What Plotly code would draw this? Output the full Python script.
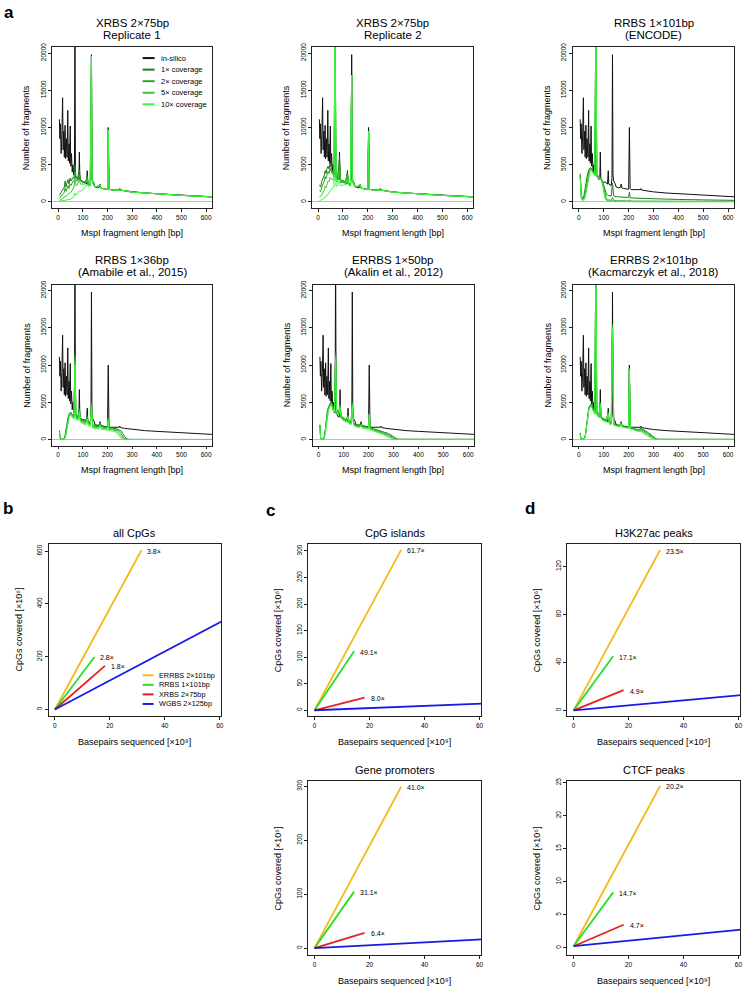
import plotly.graph_objects as go

W, H = 749, 988
FONT = "Liberation Sans, Arial, Helvetica, sans-serif"

# ---------------- Panel a data: MspI fragment length distributions ----------------
insilico_x = [5, 7, 9, 12, 15, 18, 20, 23, 25, 28,
              30, 33, 36, 39, 41, 44, 46, 49, 51, 54,
              57, 60, 63, 66, 68, 70, 75, 80, 84, 86,
              88, 95, 100, 105, 110, 115, 118, 120, 125, 130,
              133, 135, 137, 140, 145, 150, 160, 168, 170, 172,
              180, 190, 200, 203, 206, 210, 230, 248, 250, 252,
              270, 300, 350, 400, 450, 500, 550, 600, 625]
insilico_y = [11100, 8500, 10500, 6500, 9000, 14000, 7000, 9500, 6000, 10300,
              5800, 8500, 6000, 12300, 5500, 7800, 5200, 10200, 4800, 6500,
              4000, 5000, 3600, 4200, 26000, 3500, 3300, 3000, 3100, 6700,
              3000, 2800, 2600, 2700, 2500, 2400, 4200, 2400, 2300, 2200,
              3200, 19800, 3500, 2800, 2500, 2000, 1900, 2000, 2400, 1900,
              1800, 1750, 1700, 10000, 1800, 1650, 1600, 1650, 1800, 1600,
              1500, 1350, 1200, 1100, 1000, 900, 820, 730, 690]

# XRBS replicates: low-length part + shared tail
a12_x = [5, 10, 15, 20, 25, 28, 32, 36, 40, 44,
         48, 52, 56, 60, 64, 68, 72, 78, 86, 90,
         100, 110, 118, 122, 130]
a12_tail_x = [135, 137, 140, 150, 170, 172, 190, 200, 203, 206,
              220, 250, 300, 400, 500, 600, 625]
a1_tail = [19600, 3200, 2600, 1950, 2300, 1850, 1700, 1650, 9700, 1700,
           1600, 1600, 1320, 1060, 880, 710, 670]
a2_tail = [17000, 3200, 2600, 1950, 2300, 1850, 1700, 1650, 9500, 1700,
           1600, 1600, 1320, 1060, 880, 710, 670]

a1_c1 = [900, 1200, 1400, 1700, 2000, 2800, 2000, 2600, 3000, 2400,
         3200, 2800, 3000, 3300, 3200, 5000, 3300, 3100, 4300, 3000,
         2800, 2600, 3500, 2400, 2300]
a1_c2 = [500, 700, 900, 1100, 1300, 1900, 1400, 1800, 2200, 1800,
         2400, 2200, 2500, 2800, 2800, 4000, 2900, 2800, 3600, 2800,
         2700, 2500, 3300, 2400, 2300]
a1_c5 = [200, 300, 400, 500, 600, 800, 700, 900, 1000, 1000,
         1200, 1300, 1500, 1800, 2000, 3000, 2200, 2300, 3000, 2400,
         2400, 2400, 3000, 2300, 2200]
a1_c10 = [80, 100, 120, 150, 180, 250, 200, 250, 300, 300,
          350, 400, 500, 600, 700, 1200, 900, 1100, 1500, 1400,
          1700, 1900, 2400, 2100, 2200]

a2_c1 = [2300, 2000, 2800, 3200, 3600, 4200, 3800, 4500, 4800, 4400,
         5200, 4600, 4300, 3900, 3600, 25000, 3400, 3200, 6000, 3000,
         2900, 2700, 4000, 2500, 2400]
a2_c2 = [1500, 1400, 2000, 2400, 2800, 3400, 3100, 3700, 4100, 3800,
         4500, 4100, 3900, 3600, 3400, 25000, 3200, 3000, 5200, 2900,
         2800, 2600, 3800, 2500, 2400]
a2_c5 = [700, 700, 1000, 1300, 1600, 2100, 1900, 2400, 2800, 2700,
         3300, 3100, 3100, 3000, 2900, 25000, 2800, 2700, 4200, 2600,
         2600, 2500, 3500, 2400, 2300]
a2_c10 = [150, 200, 300, 400, 500, 700, 700, 900, 1100, 1200,
          1500, 1600, 1800, 1900, 2000, 25000, 2100, 2200, 2800, 2200,
          2300, 2300, 3000, 2300, 2300]

# RRBS 1x101bp (ENCODE)
a3_x = [5, 7, 10, 15, 20, 25, 30, 35, 40, 45,
        50, 55, 60, 64, 68, 72, 80, 90, 95, 100,
        105, 110, 115, 120, 130, 135, 140, 150, 170, 200,
        203, 206, 250, 300, 400, 500, 600, 625]
a3_c1 = [3800, 2000, 800, 500, 800, 1800, 3000, 3800, 4300, 4600,
         4500, 4200, 3900, 3700, 25000, 3600, 3400, 3100, 2800, 2200,
         1500, 1100, 900, 850, 800, 2500, 800, 700, 650, 600,
         1300, 550, 480, 400, 330, 270, 220, 210]
a3_c2 = [3600, 1800, 600, 350, 500, 1200, 2400, 3400, 4100, 4500,
         4500, 4200, 3900, 3700, 25000, 3600, 3400, 3100, 2700, 1900,
         1000, 500, 300, 250, 200, 600, 180, 160, 150, 130,
         300, 120, 110, 100, 90, 80, 70, 70]
a3_c5 = [3400, 1600, 500, 250, 350, 900, 1900, 3000, 3800, 4300,
         4400, 4100, 3800, 3600, 25000, 3500, 3300, 3000, 2500, 1500,
         700, 300, 150, 100, 80, 200, 70, 60, 50, 50,
         100, 50, 40, 40, 40, 40, 40, 40]
a3_c10 = [3200, 1400, 400, 200, 250, 600, 1400, 2500, 3400, 4000,
          4200, 4000, 3700, 3500, 25000, 3400, 3200, 2900, 2300, 1200,
          500, 200, 80, 50, 40, 100, 40, 30, 30, 30,
          60, 30, 30, 30, 30, 30, 30, 30]

# RRBS 1x36bp (Amabile et al., 2015)
a4_x = [5, 8, 12, 20, 26, 30, 35, 40, 45, 50,
        55, 60, 64, 68, 72, 80, 86, 90, 100, 110,
        118, 122, 130, 135, 140, 150, 165, 170, 175, 190,
        200, 203, 206, 220, 235, 245, 255, 265, 275, 285,
        300, 400, 500, 600, 625]
a4_c1 = [1200, 200, 50, 50, 200, 800, 2000, 3000, 3500, 3700,
         3400, 3300, 3200, 11500, 3200, 3000, 4200, 2800, 2600, 2400,
         3200, 2300, 2200, 5000, 2000, 1900, 1900, 2300, 1850, 1750,
         1700, 3000, 1650, 1550, 1450, 1350, 1150, 600, 150, 20,
         10, 10, 10, 10, 10]
a4_c2 = [1100, 150, 40, 40, 150, 650, 1800, 2850, 3400, 3600,
         3300, 3150, 3050, 11000, 3050, 2850, 4000, 2650, 2450, 2250,
         3000, 2150, 2050, 4800, 1850, 1750, 1750, 2150, 1700, 1600,
         1550, 2850, 1500, 1420, 1320, 1180, 800, 250, 40, 10,
         10, 10, 10, 10, 10]
a4_c5 = [1000, 120, 30, 30, 100, 500, 1600, 2700, 3250, 3450,
         3150, 3000, 2900, 10500, 2900, 2700, 3800, 2500, 2300, 2100,
         2850, 2000, 1900, 4600, 1700, 1600, 1600, 2000, 1550, 1450,
         1400, 2700, 1350, 1300, 1200, 900, 400, 60, 10, 10,
         10, 10, 10, 10, 10]
a4_c10 = [900, 100, 20, 20, 80, 400, 1400, 2500, 3100, 3300,
          3000, 2850, 2750, 10000, 2750, 2550, 3600, 2350, 2150, 1950,
          2700, 1850, 1750, 4400, 1550, 1450, 1450, 1850, 1400, 1300,
          1250, 2550, 1200, 1150, 1000, 600, 150, 20, 10, 10,
          10, 10, 10, 10, 10]

# ERRBS 1x50bp (Akalin et al., 2012)
a5_x = [5, 8, 12, 20, 25, 30, 35, 40, 45, 50,
        55, 60, 64, 68, 72, 80, 86, 90, 100, 110,
        118, 122, 130, 135, 140, 150, 165, 170, 175, 190,
        200, 203, 206, 220, 240, 260, 280, 295, 305, 315,
        325, 400, 500, 600, 625]
a5_c1 = [2000, 200, 80, 80, 800, 2500, 3800, 4400, 4900, 5100,
         4700, 4300, 4000, 11700, 4000, 3500, 4800, 3200, 2900, 2600,
         3300, 2400, 2300, 5100, 2200, 2000, 1900, 2200, 1850, 1750,
         1700, 3600, 1600, 1450, 1250, 1050, 800, 500, 250, 80,
         30, 20, 20, 20, 20]
a5_c2 = [1900, 180, 70, 70, 700, 2300, 3600, 4300, 4800, 5000,
         4600, 4200, 3900, 11300, 3900, 3400, 4600, 3100, 2800, 2500,
         3200, 2300, 2200, 4900, 2100, 1900, 1800, 2100, 1750, 1650,
         1600, 3500, 1500, 1350, 1150, 950, 650, 350, 120, 30,
         20, 20, 20, 20, 20]
a5_c5 = [1800, 160, 60, 60, 600, 2100, 3400, 4100, 4600, 4800,
         4400, 4000, 3800, 11000, 3800, 3300, 4400, 3000, 2700, 2400,
         3100, 2200, 2100, 4700, 2000, 1800, 1700, 2000, 1650, 1550,
         1500, 3400, 1400, 1250, 1050, 800, 450, 180, 50, 20,
         20, 20, 20, 20, 20]
a5_c10 = [1700, 150, 50, 50, 500, 1900, 3200, 3900, 4400, 4600,
          4200, 3900, 3700, 10700, 3700, 3200, 4200, 2900, 2600, 2300,
          3000, 2100, 2000, 4500, 1900, 1700, 1600, 1900, 1550, 1450,
          1400, 3300, 1300, 1150, 950, 650, 300, 80, 20, 20,
          20, 20, 20, 20, 20]

# ERRBS 2x101bp (Kacmarczyk et al., 2018)
a6_x = [5, 8, 12, 20, 25, 30, 35, 40, 45, 50,
        55, 60, 64, 68, 72, 80, 86, 90, 100, 110,
        118, 122, 130, 135, 140, 150, 165, 170, 175, 190,
        200, 203, 206, 220, 240, 250, 260, 275, 290, 300,
        310, 320, 400, 500, 600, 625]
a6_c1 = [900, 100, 50, 50, 400, 2000, 3500, 4300, 4600, 4800,
         4300, 3900, 3700, 25000, 3700, 3200, 5000, 3000, 2800, 2600,
         3700, 2400, 2300, 15500, 2200, 2000, 1850, 2300, 1800, 1700,
         1650, 9600, 1600, 1450, 1350, 1500, 1250, 1000, 650, 350,
         100, 30, 20, 20, 20, 20]
a6_c2 = [850, 90, 45, 45, 350, 1900, 3400, 4200, 4500, 4700,
         4200, 3800, 3600, 25000, 3600, 3100, 4900, 2900, 2700, 2500,
         3600, 2300, 2200, 15300, 2100, 1900, 1800, 2200, 1750, 1650,
         1600, 9500, 1550, 1400, 1250, 1350, 1100, 850, 500, 250,
         60, 20, 20, 20, 20, 20]
a6_c5 = [800, 80, 40, 40, 300, 1800, 3300, 4100, 4400, 4600,
         4100, 3700, 3500, 25000, 3500, 3000, 4800, 2800, 2600, 2400,
         3500, 2200, 2100, 15100, 2000, 1850, 1750, 2150, 1700, 1600,
         1550, 9400, 1500, 1350, 1150, 1250, 950, 700, 350, 120,
         30, 20, 20, 20, 20, 20]
a6_c10 = [750, 70, 35, 35, 250, 1700, 3200, 4000, 4300, 4500,
          4000, 3600, 3400, 25000, 3400, 2900, 4700, 2700, 2500, 2300,
          3400, 2100, 2000, 14900, 1900, 1800, 1700, 2100, 1650, 1550,
          1500, 9300, 1450, 1300, 1050, 1100, 800, 500, 200, 50,
          20, 20, 20, 20, 20, 20]

a_titles = [("XRBS 2×75bp", "Replicate 1"), ("XRBS 2×75bp", "Replicate 2"),
            ("RRBS 1×101bp", "(ENCODE)"), ("RRBS 1×36bp", "(Amabile et al., 2015)"),
            ("ERRBS 1×50bp", "(Akalin et al., 2012)"), ("ERRBS 2×101bp", "(Kacmarczyk et al., 2018)")]
coverage_names = ["1× coverage", "2× coverage", "5× coverage", "10× coverage"]
a_xticks = [0, 100, 200, 300, 400, 500, 600]
a_yticks = [0, 5000, 10000, 15000, 20000]

# ---------------- Panels b-d data: CpGs covered vs basepairs sequenced ----------------
methods = ["ERRBS 2×101bp", "RRBS 1×101bp", "XRBS 2×75bp", "WGBS 2×125bp"]
errbs_bp = [0, 31.5]
rrbs_bp = [0, 14.4]
xrbs_bp = [0, 18.2]
wgbs_bp = [0, 65]

allcpg_y = {"ERRBS": [0, 603], "RRBS": [0, 199], "XRBS": [0, 165], "WGBS": [0, 357]}
cgi_y = {"ERRBS": [0, 302], "RRBS": [0, 111], "XRBS": [0, 23.8], "WGBS": [0, 13.4]}
h3k27ac_y = {"ERRBS": [0, 133.8], "RRBS": [0, 45.2], "XRBS": [0, 16.9], "WGBS": [0, 13.6]}
promoter_y = {"ERRBS": [0, 299], "RRBS": [0, 104.7], "XRBS": [0, 28.3], "WGBS": [0, 17.2]}
ctcf_y = {"ERRBS": [0.25, 24.5], "RRBS": [0.25, 8.4], "XRBS": [0.25, 3.5], "WGBS": [0.25, 2.94]}

allcpg_fold = ["3.8×", "2.8×", "1.8×"]
cgi_fold = ["61.7×", "49.1×", "8.0×"]
h3k27ac_fold = ["23.5×", "17.1×", "4.9×"]
promoter_fold = ["41.0×", "31.1×", "6.4×"]
ctcf_fold = ["20.2×", "14.7×", "4.7×"]

bp_xticks = [0, 20, 40, 60]
allcpg_yticks = [0, 200, 400, 600]
cgi_yticks = [0, 50, 100, 150, 200, 250, 300]
h3k27ac_yticks = [0, 40, 80, 120]
promoter_yticks = [0, 100, 200, 300]
ctcf_yticks = [0, 5, 10, 15, 20, 25]

# ---------------- styling ----------------
cov_colors = ["#1e7d1e", "#2aa52a", "#2fcf2f", "#3df53d"]
insilico_color = "#111111"
method_colors = ["#F5B91E", "#2BDD2B", "#E8201E", "#1A1AE6"]
AXC = "#222222"

# plot boxes in pixels: (left, right, top, bottom)
a_boxes = [(52.4, 212.6, 43.3, 204.7), (313.0, 474.5, 43.3, 204.7), (574.5, 736.0, 43.3, 204.7),
           (52.4, 212.6, 281.7, 443.3), (313.5, 475.5, 281.7, 443.3), (574.5, 736.0, 281.7, 443.3)]
bd_boxes = [(48.7, 222.0, 542.0, 715.0), (309.0, 482.5, 542.0, 715.0), (568.8, 742.0, 542.0, 715.0),
            (309.0, 482.5, 780.5, 955.0), (568.8, 742.0, 780.5, 955.0)]


def px(x):
    return x / W


def py(y):
    return 1 - y / H


fig = go.Figure()
annotations = []
shapes = []


def txt(x, y, s, size, angle=0, xanchor="center", bold=False):
    annotations.append(dict(x=px(x), y=py(y), xref="paper", yref="paper", text=("<b>%s</b>" % s) if bold else s,
                            showarrow=False, xanchor=xanchor, yanchor="middle", textangle=angle,
                            font=dict(size=size, family=FONT, color="black")))


def set_axes(i, box, xr, yr, xt, yt, zero):
    l, r, t, b = box
    sx = "" if i == 1 else str(i)
    common = dict(ticks="outside", ticklen=3, tickwidth=0.8, tickcolor=AXC, showline=True, linecolor=AXC,
                  linewidth=0.9, mirror=True, showgrid=False,
                  tickfont=dict(size=6.5, family=FONT, color="black"))
    fig.layout["xaxis" + sx] = dict(domain=[px(l), px(r)], range=xr, anchor="y" + sx, tickvals=xt,
                                    ticktext=[str(v) for v in xt], zeroline=False, **common)
    fig.layout["yaxis" + sx] = dict(domain=[py(b), py(t)], range=yr, anchor="x" + sx, tickvals=yt,
                                    ticktext=[str(v) for v in yt], tickangle=-90,
                                    zeroline=zero, zerolinecolor="#bdbdbd", zerolinewidth=1, **common)


# ---- panel a ----
a_series = [
    (a12_x + a12_tail_x, [a1_c1 + a1_tail, a1_c2 + a1_tail, a1_c5 + a1_tail, a1_c10 + a1_tail]),
    (a12_x + a12_tail_x, [a2_c1 + a2_tail, a2_c2 + a2_tail, a2_c5 + a2_tail, a2_c10 + a2_tail]),
    (a3_x, [a3_c1, a3_c2, a3_c5, a3_c10]),
    (a4_x, [a4_c1, a4_c2, a4_c5, a4_c10]),
    (a5_x, [a5_c1, a5_c2, a5_c5, a5_c10]),
    (a6_x, [a6_c1, a6_c2, a6_c5, a6_c10]),
]
for k in range(6):
    i = k + 1
    sx = "" if i == 1 else str(i)
    box = a_boxes[k]
    set_axes(i, box, [-24, 624], [-800, 20800], a_xticks, a_yticks, True)
    fig.add_trace(go.Scatter(x=insilico_x, y=insilico_y, mode="lines", xaxis="x" + sx, yaxis="y" + sx,
                             line=dict(color=insilico_color, width=1), name="in-silico", showlegend=False))
    xs, ys = a_series[k]
    for c in range(4):
        fig.add_trace(go.Scatter(x=xs, y=ys[c], mode="lines", xaxis="x" + sx, yaxis="y" + sx,
                                 line=dict(color=cov_colors[c], width=1), name=coverage_names[c],
                                 showlegend=False))
    l, r, t, b = box
    cx = (l + r) / 2
    t1, t2 = a_titles[k]
    ty = t - 18.5
    txt(cx, ty - 6, t1, 11.5)
    txt(cx, ty + 6, t2, 11.5)
    txt(l - 25.5, (t + b) / 2, "Number of fragments", 9, angle=-90)
    txt(cx, b + 25, "MspI fragment length [bp]", 9)

# manual legend for panel a (top-left panel)
leg_items = ["in-silico"] + coverage_names
leg_cols = [insilico_color] + cov_colors
for j in range(5):
    yy = 54.3 + j * 11.6
    shapes.append(dict(type="line", xref="paper", yref="paper", x0=px(143), x1=px(155), y0=py(yy), y1=py(yy),
                       line=dict(color=leg_cols[j], width=2)))
    txt(159, yy, leg_items[j], 7.5, xanchor="left")

# ---- panels b-d ----
bd_panels = [
    ("all CpGs", allcpg_y, allcpg_fold, allcpg_yticks, [-25, 627.5]),
    ("CpG islands", cgi_y, cgi_fold, cgi_yticks, [-11, 313.5]),
    ("H3K27ac peaks", h3k27ac_y, h3k27ac_fold, h3k27ac_yticks, [-4.8, 139]),
    ("Gene promoters", promoter_y, promoter_fold, promoter_yticks, [-13, 309]),
    ("CTCF peaks", ctcf_y, ctcf_fold, ctcf_yticks, [-1.1, 25.2]),
]
method_keys = ["ERRBS", "RRBS", "XRBS", "WGBS"]
method_x = [errbs_bp, rrbs_bp, xrbs_bp, wgbs_bp]
for k in range(5):
    i = 7 + k
    sx = str(i)
    box = bd_boxes[k]
    title, ydat, folds, yt, yr = bd_panels[k]
    set_axes(i, box, [-2.3, 60.6], yr, bp_xticks, yt, False)
    for m in range(4):
        fig.add_trace(go.Scatter(x=method_x[m], y=ydat[method_keys[m]], mode="lines", xaxis="x" + sx,
                                 yaxis="y" + sx, line=dict(color=method_colors[m], width=1.8),
                                 name=methods[m], showlegend=False))
    for m in range(3):
        annotations.append(dict(x=method_x[m][-1], y=ydat[method_keys[m]][-1], xref="x" + sx, yref="y" + sx,
                                text=folds[m], showarrow=False, xanchor="left", yanchor="middle", xshift=4,
                                yshift=-1, font=dict(size=7, family=FONT, color="black")))
    l, r, t, b = box
    cx = (l + r) / 2
    txt(cx, t - 11, title, 11)
    txt(l - 30, (t + b) / 2, "CpGs covered [×10⁶]", 9, angle=-90)
    txt(cx, b + 26, "Basepairs sequenced [×10⁹]", 9)

# manual legend for panel b
for m in range(4):
    yy = 674 + m * 9.6
    shapes.append(dict(type="line", xref="paper", yref="paper", x0=px(143), x1=px(154), y0=py(yy), y1=py(yy),
                       line=dict(color=method_colors[m], width=2)))
    txt(157, yy, methods[m], 7.3, xanchor="left")

# panel letters
txt(9, 9, "a", 17, bold=True)
txt(8.5, 507, "b", 17, bold=True)
txt(271, 509, "c", 17, bold=True)
txt(531, 507, "d", 17, bold=True)

fig.update_layout(width=W, height=H, margin=dict(l=0, r=0, t=0, b=0), paper_bgcolor="white",
                  plot_bgcolor="white", showlegend=False, annotations=annotations, shapes=shapes,
                  font=dict(family=FONT, color="black"))
fig.write_html("out.html", config={"displayModeBar": False},
               post_script="document.body.style.margin='0px';document.body.style.overflow='hidden';")
